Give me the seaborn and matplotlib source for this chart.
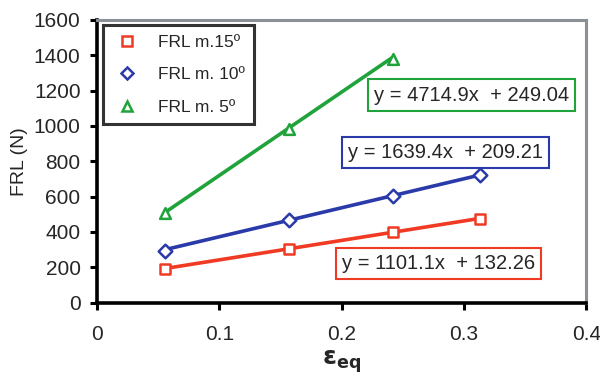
import numpy as np
import pandas as pd
import seaborn as sns
import matplotlib.pyplot as plt
from matplotlib.lines import Line2D

sns.set_theme(style="white")
plt.rcParams['font.family'] = ['Liberation Sans', 'DejaVu Sans']

# Measured data
eps_15 = [0.0557, 0.157, 0.242, 0.313]
frl_15 = [190, 305, 400, 475]
eps_10 = [0.0557, 0.157, 0.242, 0.313]
frl_10 = [295, 470, 605, 720]
eps_5 = [0.0557, 0.157, 0.242]
frl_5 = [510, 980, 1380]

# Linear fits (slope, intercept)
fit_15 = (1101.1, 132.26)
fit_10 = (1639.4, 209.21)
fit_5 = (4714.9, 249.04)

labels = ["FRL m.15º", "FRL m. 10º", "FRL m. 5º"]
colors = ["#f03a24", "#2a3aa8", "#1fa33a"]
markers = ["s", "D", "^"]

series = [(eps_15, frl_15, fit_15), (eps_10, frl_10, fit_10), (eps_5, frl_5, fit_5)]

fig = plt.figure(figsize=(6, 3.76), dpi=100)
ax = fig.add_axes([0.162, 0.195, 0.815, 0.752])

frames = []
for (x, y, fit), lab in zip(series, labels):
    frames.append(pd.DataFrame({"eps": x, "frl": y, "serie": lab}))
df = pd.concat(frames, ignore_index=True)

for (x, y, fit), lab, c, m in zip(series, labels, colors, markers):
    xs = np.array([min(x), max(x)])
    trend = pd.DataFrame({"eps": xs, "frl": fit[0] * xs + fit[1]})
    sns.lineplot(data=trend, x="eps", y="frl", color=c, lw=2.6, ax=ax, legend=False)
    sub = df[df.serie == lab]
    ms = 60 if m != "D" else 48
    sns.scatterplot(data=sub, x="eps", y="frl", marker=m, s=ms, facecolor="white",
                    edgecolor=c, linewidth=1.8, ax=ax, legend=False, zorder=5)

ax.set_xlim(0, 0.4)
ax.set_ylim(0, 1600)
ax.set_xticks([0, 0.1, 0.2, 0.3, 0.4])
ax.set_xticklabels(["0", "0.1", "0.2", "0.3", "0.4"])
ax.set_yticks(range(0, 1601, 200))
ax.tick_params(axis="both", labelsize=15, length=5, width=2.2, color="black",
               direction="out")
ax.tick_params(axis="x", bottom=True, pad=11)
ax.tick_params(axis="y", left=True, pad=7)

for s in ["left", "bottom"]:
    ax.spines[s].set_color("black")
    ax.spines[s].set_linewidth(2.6)
for s in ["top", "right"]:
    ax.spines[s].set_color("#8a9096")
    ax.spines[s].set_linewidth(2.2)

ax.set_ylabel("FRL (N)", fontsize=14, labelpad=4)
ax.set_xlabel(r"$\mathbf{\varepsilon}_{\mathbf{eq}}$", fontsize=18, labelpad=3)

# Equation boxes
eqs = [(fit_5, 0.306, 1175, colors[2]), (fit_10, 0.285, 852, colors[1]),
       (fit_15, 0.279, 222, colors[0])]
for (a, b), xt, yt, c in eqs:
    ax.text(xt, yt, f"y = {a}x  + {b:.2f}", fontsize=14.5, ha="center", va="center",
            bbox=dict(boxstyle="square,pad=0.3", fc="white", ec=c, lw=1.5), zorder=6)

handles = [Line2D([], [], ls="none", marker=m, mfc="white", mec=c, mew=1.8,
                  ms=7 if m != "D" else 6)
           for m, c in zip(markers, colors)]
leg = ax.legend(handles, labels, loc="upper left", bbox_to_anchor=(0.012, 0.982),
                borderaxespad=0, fontsize=12.5, frameon=True, fancybox=False,
                edgecolor="black", borderpad=0.55, labelspacing=1.0,
                handletextpad=1.0, handlelength=1.6)
leg.get_frame().set_linewidth(2.2)

fig.savefig("out.png", dpi=100)
